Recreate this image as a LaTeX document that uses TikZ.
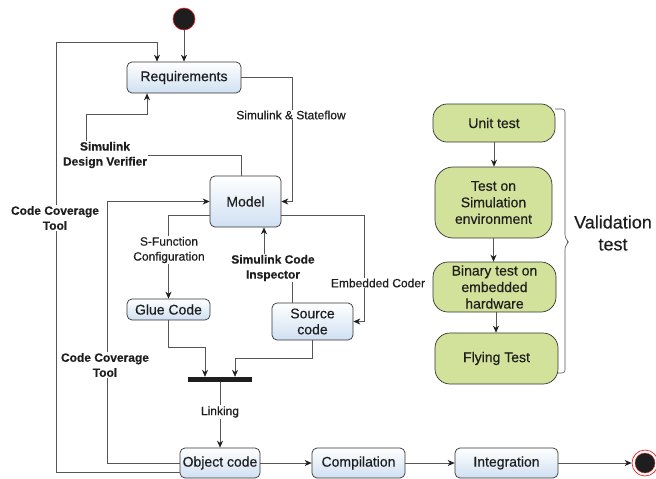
\documentclass[tikz,border=0pt]{standalone}
\usepackage{fontspec}
\setmainfont{Liberation Sans}[FakeBold=0.4,BoldFeatures={FakeBold=0.3}]
\usetikzlibrary{arrows.meta,calc,shadings}
\definecolor{boxtop}{HTML}{FFFFFF}
\definecolor{boxbot}{HTML}{CFE0F2}
\definecolor{greenfill}{HTML}{D3E29A}
\definecolor{edge}{HTML}{333333}
\definecolor{wire}{HTML}{555555}
\definecolor{ink}{HTML}{1E1E1E}
\definecolor{ringred}{HTML}{E8262B}
\begin{document}
\begin{tikzpicture}[x=1pt,y=-1pt,
  every node/.style={text=ink},
  state/.style={draw=edge,line width=0.7pt,rounded corners=5pt,top color=boxtop,bottom color=boxbot,
    font=\fontsize{14}{16}\selectfont,align=center,inner sep=1pt},
  phase/.style={draw=edge,line width=0.7pt,fill=greenfill,font=\fontsize{14}{16.5}\selectfont,
    align=center,inner sep=1pt},
  lbl/.style={fill=white,font=\fontsize{12}{15}\selectfont,align=center,inner sep=1pt},
  blbl/.style={lbl,font=\fontsize{12}{15}\selectfont\bfseries},
  arr/.style={draw=wire,line width=0.7pt,-{Stealth[length=7pt,width=6pt,color=ink]}},
  wireline/.style={draw=wire,line width=0.7pt}
]
\useasboundingbox (0,0) rectangle (656,479);

% initial and final states
\node[circle,fill=ink,draw=ringred,line width=0.6pt,minimum size=22pt,inner sep=0pt] (start) at (184,19) {};
\node[circle,draw=ringred,line width=0.7pt,minimum size=26pt,inner sep=0pt] (stop) at (645,463) {};
\node[circle,fill=ink,draw=ringred,line width=0.4pt,minimum size=20pt,inner sep=0pt] (stopdot) at (645,463) {};

% activity boxes
\node[state,minimum width=114pt,minimum height=31pt] (req) at (184,77.5) {Requirements};
\node[state,minimum width=71pt,minimum height=51pt] (model) at (245.5,201.5) {Model};
\node[state,minimum width=83pt,minimum height=21pt] (glue) at (168.5,309.5) {Glue Code};
\node[state,minimum width=81pt,minimum height=37pt] (src) at (312.5,321.5) {Source\\code};
\node[state,minimum width=80pt,minimum height=30pt] (obj) at (220,463) {Object code};
\node[state,minimum width=93pt,minimum height=30pt] (comp) at (358.5,463) {Compilation};
\node[state,minimum width=103pt,minimum height=30pt] (integ) at (506.5,463) {Integration};

% join bar
\node[fill=ink,minimum width=64pt,minimum height=5pt,inner sep=0pt] (bar) at (220,379.5) {};

% validation phases
\node[phase,rounded corners=14pt,minimum width=122pt,minimum height=38pt] (unit) at (494,123) {Unit test};
\node[phase,rounded corners=18pt,minimum width=117pt,minimum height=71pt] (sim) at (493.5,202.5) {Test on\\Simulation\\environment};
\node[phase,rounded corners=15pt,minimum width=123pt,minimum height=50pt] (bin) at (494.5,287) {Binary test on\\embedded\\hardware};
\node[phase,rounded corners=15pt,minimum width=123pt,minimum height=51pt] (fly) at (496.5,358.5) {Flying Test};

% main flow
\draw[arr] (start) -- (req);
\draw[arr] ([yshift=-9pt]obj.west) -| (56,42) -| ([xshift=-27pt]req.north);
\node[blbl] (cct1) at (55,218) {Code Coverage\\Tool};
\draw[arr] (obj.west) -- (107,463) |- (model.west);
\node[blbl] (cct2) at (105,365) {Code Coverage\\Tool};

\draw[arr] ([xshift=-4.5pt]model.north) -- (241,155) -- (86,155) -- (86,114) -| ([xshift=-37pt]req.south);
\node[blbl] (sdv) at (105,155) {Simulink\\Design Verifier};

\draw[arr] (req.east) -| ([xshift=11pt]model.east) -- (model.east);
\node[lbl] (sls) at (291,115) {Simulink \& Stateflow};

\draw[arr] ([yshift=-13.5pt]model.east) -| ([xshift=11pt]src.east) -- (src.east);
\node[lbl] (ec) at (378,283) {Embedded Coder};

\draw[arr] ([yshift=-13.5pt]model.west) -| (glue.north);
\node[lbl] (sfc) at (169,250) {S-Function\\Configuration};

\draw[arr] ([xshift=-20.5pt]src.north) -- (292,268) -| ([xshift=18.5pt]model.south);
\node[blbl] (sci) at (273,268) {Simulink Code\\Inspector};

\draw[arr] (glue.south) -- (168.5,347) -| ([xshift=-15pt]bar.north);
\draw[arr] (src.south) -- (312.5,358) -| ([xshift=15pt]bar.north);

\draw[arr] (bar.south) -- (obj.north);
\node[lbl] (lnk) at (220,412) {Linking};

\draw[arr] (obj) -- (comp);
\draw[arr] (comp) -- (integ);
\draw[arr] (integ) -- (stop);

% validation chain
\draw[arr] (unit.south) -- (unit.south |- sim.north);
\draw[arr] (sim.south) -- (sim.south |- bin.north);
\draw[arr] ([xshift=1.5pt]bin.south) -- ([xshift=1.5pt]bin.south |- fly.north);

% brace grouping the validation phases
\draw[draw=wire,line width=0.6pt,rounded corners=3pt]
  (555,109) -- (565,109) -- (565,238) -- (569,242) -- (565,246) -- (565,373) -- (557,373);
\node[font=\fontsize{18}{22}\selectfont,align=center,inner sep=0pt] (vt) at (613,233) {Validation\\test};
\end{tikzpicture}
\end{document}
